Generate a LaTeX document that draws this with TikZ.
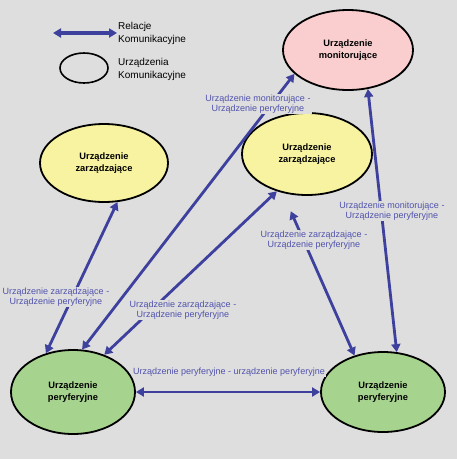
\documentclass[tikz,border=0pt]{standalone}
\usepackage{fontspec}
\setmainfont{Liberation Sans}
\usetikzlibrary{shapes.geometric,arrows.meta}

\definecolor{tlo}{RGB}{222,222,222}
\definecolor{niebieski}{RGB}{62,64,158}
\definecolor{opisowy}{RGB}{80,82,172}
\definecolor{rozowy}{RGB}{250,206,206}
\definecolor{zolty}{RGB}{248,243,160}
\definecolor{zielony}{RGB}{166,212,142}

\tikzset{
    urzadzenie/.style={ellipse, draw=black, line width=1.8pt, inner sep=0pt, align=center,
        font=\fontsize{9.3}{11.5}\selectfont\bfseries},
    relacja/.style={draw=niebieski, line width=2.8pt,
        {Triangle[length=8pt,width=9pt]}-{Triangle[length=8pt,width=9pt]}},
    opis/.style={fill=tlo, text=opisowy, align=center, inner sep=1pt,
        font=\fontsize{9}{10.5}\selectfont},
    legenda/.style={anchor=west, align=left, inner sep=0pt, font=\fontsize{10}{13}\selectfont},
}

\begin{document}
\begin{tikzpicture}[x=1pt, y=-1pt]
            % tlo
            \fill[tlo] (0,0) rectangle (457,459);

            % legenda
            \coordinate (legenda-lewy) at (53,33);
            \coordinate (legenda-prawy) at (117,33);
            \draw[relacja, line width=3.2pt] (legenda-lewy) -- (legenda-prawy);
            \node[legenda] (legenda-relacje) at (118,33) {Relacje\\Komunikacyjne};
            \node[ellipse, draw=black, line width=1.6pt, minimum width=48pt, minimum height=30pt] (legenda-wzor) at (84,68) {};
            \node[legenda] (legenda-urzadzenia) at (118,69) {Urządzenia\\Komunikacyjne};

            % urzadzenia
            \node[urzadzenie, fill=rozowy, minimum width=130pt, minimum height=80pt] (monitor) at (348,50) {Urządzenie\\monitorujące};
            \node[urzadzenie, fill=zolty, minimum width=128pt, minimum height=78pt] (zarzadL) at (104,163) {Urządzenie\\zarządzające};
            \node[urzadzenie, fill=zolty, minimum width=130pt, minimum height=82pt] (zarzadP) at (307,154) {Urządzenie\\zarządzające};
            \node[urzadzenie, fill=zielony, minimum width=124pt, minimum height=84pt] (peryfL) at (73,392) {Urządzenie\\peryferyjne};
            \node[urzadzenie, fill=zielony, minimum width=124pt, minimum height=80pt] (peryfP) at (383,392) {Urządzenie\\peryferyjne};

            % relacje
            \draw[relacja] (peryfL.125) -- (zarzadL.289);
            \draw[relacja] (peryfL.50) -- (zarzadP.231);
            \draw[relacja] (peryfL.78) -- (monitor.204);
            \draw[relacja] (monitor.297) -- (peryfP.71);
            \draw[relacja, shorten <=20pt] (zarzadP.238) -- (peryfP.128);
            \draw[relacja] (peryfL.east) -- (peryfP.west);

            % opisy relacji
            \node[opis] (opis-zl) at (56,297) {Urządzenie zarządzające -\\Urządzenie peryferyjne};
            \node[opis] (opis-zp) at (183,310) {Urządzenie zarządzające -\\Urządzenie peryferyjne};
            \node[opis] (opis-ml) at (258,104) {Urządzenie monitorujące -\\Urządzenie peryferyjne};
            \node[opis] (opis-mp) at (392,211) {Urządzenie monitorujące -\\Urządzenie peryferyjne};
            \node[opis] (opis-zpp) at (314,240) {Urządzenie zarządzające -\\Urządzenie peryferyjne};
            \node[opis] (opis-pp) at (229,372) {Urządzenie peryferyjne - urządzenie peryferyjne};

\end{tikzpicture}
\end{document}
